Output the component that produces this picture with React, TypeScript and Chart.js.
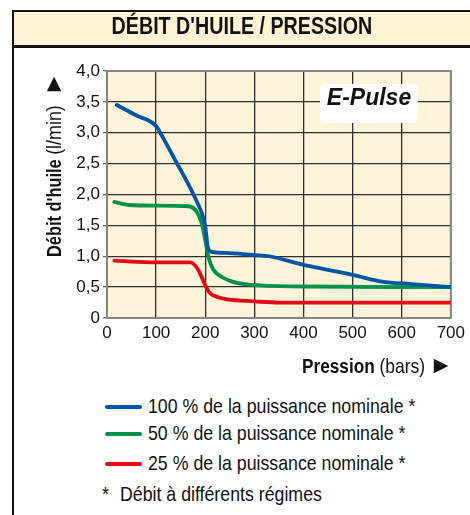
import React, { useEffect, useRef } from "react";
import { Chart, registerables } from "chart.js";

Chart.register(...registerables);

const chartTitle = "DÉBIT D'HUILE / PRESSION";
const xTicks = [0, 100, 200, 300, 400, 500, 600, 700];
const yTicks = [0, 0.5, 1, 1.5, 2, 2.5, 3, 3.5, 4];

const p100 = [20, 60, 100, 112, 142, 170, 185, 193, 200, 206, 214, 250, 300, 330, 400, 500, 560, 620, 700];
const q100 = [3.45, 3.28, 3.11, 2.95, 2.51, 2.1, 1.85, 1.7, 1.48, 1.12, 1.07, 1.05, 1.02, 1.0, 0.86, 0.7, 0.59, 0.55, 0.5];

const p50 = [15, 45, 100, 165, 182, 193, 200, 206, 216, 235, 255, 280, 310, 400, 700];
const q50 = [1.88, 1.83, 1.82, 1.81, 1.73, 1.53, 1.26, 1.0, 0.79, 0.66, 0.59, 0.55, 0.53, 0.51, 0.5];

const p25 = [15, 100, 170, 185, 193, 200, 210, 225, 245, 300, 350, 700];
const q25 = [0.93, 0.9, 0.9, 0.79, 0.66, 0.53, 0.4, 0.34, 0.3, 0.27, 0.25, 0.25];

const seriesLabels = [
  "100 % de la puissance nominale *",
  "50 % de la puissance nominale *",
  "25 % de la puissance nominale *",
];
const seriesColors = ["#0055A4", "#00924A", "#E30A17"];
const footnote = "Débit à différents régimes";

const SANS = '"Liberation Sans", Arial, sans-serif';
const TRI = '"DejaVu Sans", sans-serif';

const toPts = (xs: number[], ys: number[]) => xs.map((x, i) => ({ x, y: ys[i] }));

function Narrow(props: { text: string; size: number; bold?: boolean; k: number; origin?: string }) {
  return (
    <span
      style={{
        display: "inline-block",
        whiteSpace: "nowrap",
        transform: `scaleX(${props.k})`,
        transformOrigin: props.origin || "left center",
        font: `${props.bold ? "bold " : ""}${props.size}px ${SANS}`,
      }}
    >
      {props.text}
    </span>
  );
}

export default function App() {
  const ref = useRef<HTMLCanvasElement | null>(null);

  useEffect(() => {
    const canvas = ref.current!;
    const bgPlugin = {
      id: "bg",
      beforeDraw(chart: any) {
        const { ctx, chartArea: a } = chart;
        ctx.save();
        ctx.fillStyle = "#FEF4DA";
        ctx.fillRect(a.left, a.top, a.right - a.left, a.bottom - a.top);
        ctx.restore();
      },
      beforeDatasetsDraw(chart: any) {
        const { ctx, chartArea: a } = chart;
        ctx.save();
        ctx.strokeStyle = "#858585";
        ctx.lineWidth = 2;
        ctx.strokeRect(a.left, a.top, a.right - a.left, a.bottom - a.top);
        ctx.restore();
      },
      afterDraw(chart: any) {
        const { ctx } = chart;
        ctx.save();
        ctx.fillStyle = "#111";
        ctx.textBaseline = "alphabetic";
        // x axis title
        ctx.save();
        ctx.translate(302, 325);
        ctx.scale(0.82, 1);
        ctx.font = `bold 21px ${SANS}`;
        ctx.fillText("Pression", 0, 0);
        let w = ctx.measureText("Pression ").width;
        ctx.font = `21px ${SANS}`;
        ctx.scale(0.83 / 0.82, 1);
        ctx.fillText("(bars)", (w * 0.82) / 0.83, 0);
        ctx.restore();
        ctx.font = `19px ${TRI}`;
        ctx.textAlign = "center";
        ctx.textBaseline = "middle";
        ctx.fillText("▶", 441, 318);
        ctx.fillText("▲", 54, 36);
        // y axis title (rotated)
        ctx.textAlign = "left";
        ctx.textBaseline = "alphabetic";
        ctx.translate(61, 209);
        ctx.rotate(-Math.PI / 2);
        ctx.save();
        ctx.scale(0.78, 1);
        ctx.font = `bold 21px ${SANS}`;
        ctx.fillText("Débit d'huile", 0, 0);
        w = ctx.measureText("Débit d'huile ").width * 0.78;
        ctx.restore();
        ctx.translate(w, 0);
        ctx.scale(0.85, 1);
        ctx.font = `21px ${SANS}`;
        ctx.fillText("(l/min)", 0, 0);
        ctx.restore();
      },
    };

    const chart = new Chart(canvas, {
      type: "line",
      data: {
        datasets: [
          { label: seriesLabels[0], data: toPts(p100, q100), borderColor: seriesColors[0] },
          { label: seriesLabels[1], data: toPts(p50, q50), borderColor: seriesColors[1] },
          { label: seriesLabels[2], data: toPts(p25, q25), borderColor: seriesColors[2] },
        ].map((d) => ({
          ...d,
          borderWidth: 3.8,
          pointRadius: 0,
          fill: false,
          cubicInterpolationMode: "monotone" as const,
          borderCapStyle: "round" as const,
        })),
      },
      options: {
        animation: false,
        responsive: false,
        devicePixelRatio: 1,
        layout: { padding: { left: 0, top: 23, right: 19, bottom: 40 } },
        plugins: { legend: { display: false }, tooltip: { enabled: false } },
        scales: {
          x: {
            type: "linear",
            min: 0,
            max: 700,
            afterBuildTicks: (s: any) => {
              s.ticks = xTicks.map((v) => ({ value: v }));
            },
            afterFit: (s: any) => {
              s.height = 30;
            },
            ticks: { color: "#111", font: { family: SANS, size: 17 }, padding: 5, maxRotation: 0 },
            grid: { color: "#2e2e2e", lineWidth: 1.3, drawTicks: false },
            border: { display: false },
          },
          y: {
            type: "linear",
            min: 0,
            max: 4,
            afterBuildTicks: (s: any) => {
              s.ticks = yTicks.map((v) => ({ value: v }));
            },
            afterFit: (s: any) => {
              s.width = 107;
            },
            ticks: {
              color: "#111",
              font: { family: SANS, size: 17 },
              padding: 3,
              callback: (v: any) => (Number(v) === 0 ? "0" : Number(v).toFixed(1).replace(".", ",")),
            },
            grid: { color: "#2e2e2e", lineWidth: 1.3, tickLength: 4, tickColor: "#666" },
            border: { display: false },
          },
        },
      },
      plugins: [bgPlugin],
    });
    return () => chart.destroy();
  }, []);

  const legendY = [407, 434, 464];
  const LK = 0.845;

  return (
    <div style={{ position: "absolute", left: 0, top: 0, width: 470, height: 515, overflow: "hidden", background: "#fff", color: "#111" }}>
      <canvas ref={ref} width={470} height={340} style={{ position: "absolute", left: 0, top: 48, width: 470, height: 340 }} />
      {/* frame */}
      <div style={{ position: "absolute", left: 14, top: 12, width: 456, height: 34, background: "#FEF3D4" }} />
      <div style={{ position: "absolute", left: 12, top: 10, width: 2, height: 505, background: "#111" }} />
      <div style={{ position: "absolute", left: 12, top: 10, width: 458, height: 2, background: "#111" }} />
      <div style={{ position: "absolute", left: 12, top: 45, width: 458, height: 3, background: "#111" }} />
      <div
        style={{
          position: "absolute",
          left: 14,
          top: 12,
          width: 456,
          height: 33,
          lineHeight: "33px",
          textAlign: "center",
        }}
      >
        <Narrow text={chartTitle} size={24} bold k={0.82} origin="center center" />
      </div>
      {/* E-Pulse badge */}
      <div
        style={{
          position: "absolute",
          left: 320,
          top: 84,
          width: 98,
          height: 39,
          lineHeight: "39px",
          background: "#fff",
          borderRadius: 5,
          textAlign: "center",
          font: `italic bold 23px ${SANS}`,
        }}
      >
        E-Pulse
      </div>
      {/* legend */}
      {seriesLabels.map((lab, i) => (
        <React.Fragment key={lab}>
          <div
            style={{
              position: "absolute",
              left: 105,
              top: legendY[i] - 2,
              width: 37,
              height: 4,
              borderRadius: 2,
              background: seriesColors[i],
            }}
          />
          <div style={{ position: "absolute", left: 148, top: legendY[i] - 13, height: 26, lineHeight: "26px" }}>
            <Narrow text={lab} size={21} k={LK} />
          </div>
        </React.Fragment>
      ))}
      <div style={{ position: "absolute", left: 102, top: 495 - 13, height: 26, lineHeight: "26px" }}>
        <Narrow text="*" size={21} k={LK} />
      </div>
      <div style={{ position: "absolute", left: 120, top: 495 - 13, height: 26, lineHeight: "26px" }}>
        <Narrow text={footnote} size={21} k={LK} />
      </div>
    </div>
  );
}
